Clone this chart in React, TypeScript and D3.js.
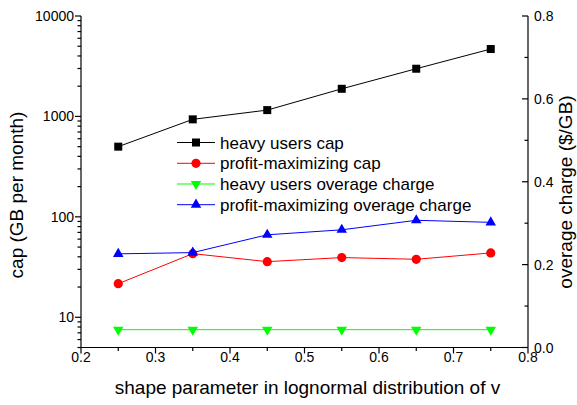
import * as React from 'react'
import * as d3 from 'd3'

const shape = [0.25, 0.35, 0.45, 0.55, 0.65, 0.75]
const heavyCap = [500, 935, 1156, 1884, 2985, 4690]
const profitCap = [21.6, 43, 35.8, 39.3, 37.8, 43.7]
const heavyCharge = [0.043, 0.043, 0.043, 0.043, 0.043, 0.043]
const profitCharge = [0.226, 0.229, 0.272, 0.284, 0.307, 0.302]

const xTicks = [0.2, 0.3, 0.4, 0.5, 0.6, 0.7, 0.8]
const capTicks = [10, 100, 1000, 10000]
const chargeTicks = [0.0, 0.2, 0.4, 0.6, 0.8]

const legendNames = [
	'heavy users cap',
	'profit-maximizing cap',
	'heavy users overage charge',
	'profit-maximizing overage charge',
]

const font = 'Liberation Sans, Arial, sans-serif'

const dims = { width: 577, height: 405, left: 81, right: 528, top: 16, bottom: 347.5 }

type Marker = 'square' | 'circle' | 'down' | 'up'

function MarkerShape(props: { kind: Marker; x: number; y: number; color: string }) {
	const { kind, x, y, color } = props
	if (kind === 'square') return <rect x={x - 4} y={y - 4} width={8} height={8} fill={color} />
	if (kind === 'circle') return <circle cx={x} cy={y} r={4.6} fill={color} />
	const sym = d3.symbol().type(d3.symbolTriangle).size(48)()
	return <path d={sym!} transform={`translate(${x},${y}) rotate(${kind === 'down' ? 180 : 0})`} fill={color} />
}

const App: React.FC = () => {
	const x = d3.scaleLinear().domain([0.2, 0.8]).range([dims.left, dims.right])
	const yCap = d3.scaleLog().domain([5, 10000]).range([dims.bottom, dims.top])
	const yCharge = d3.scaleLinear().domain([0, 0.8]).range([dims.bottom, dims.top])

	const series = [
		{ values: heavyCap, scale: yCap, color: '#000000', marker: 'square' as Marker },
		{ values: profitCap, scale: yCap, color: '#ff0000', marker: 'circle' as Marker },
		{ values: heavyCharge, scale: yCharge, color: '#00ff00', marker: 'down' as Marker },
		{ values: profitCharge, scale: yCharge, color: '#0000ff', marker: 'up' as Marker },
	]

	// minor ticks on the log axis: 2..9 per decade down to 5
	const capMinor: number[] = []
	for (let d = 1; d <= 1000; d *= 10) {
		for (let k = 2; k <= 9; k++) {
			if (k * d >= 5) capMinor.push(k * d)
		}
	}
	const xMinor = d3.range(0.25, 0.8, 0.1)
	const chargeMinor = d3.range(0.1, 0.8, 0.2)

	const legendY = [142.5, 163.3, 184, 204.7]

	return (
		<svg width={dims.width} height={dims.height} style={{ position: 'absolute', left: 0, top: 0, background: '#fff' }}
			fontFamily={font}>
			{/* series */}
			{series.map((s, i) => {
				const line = d3.line<number>()
					.x((_, j) => x(shape[j]))
					.y(v => s.scale(v))
				return (
					<g key={i}>
						<path d={line(s.values)!} fill="none" stroke={s.color} strokeWidth={1} />
						{s.values.map((v, j) => (
							<MarkerShape key={j} kind={s.marker} x={x(shape[j])} y={s.scale(v)} color={s.color} />
						))}
					</g>
				)
			})}

			{/* axes lines */}
			<g stroke="#000" strokeWidth={1.2} fill="none">
				<line x1={dims.left} x2={dims.right} y1={dims.bottom} y2={dims.bottom} />
				<line x1={dims.left} x2={dims.left} y1={dims.top} y2={dims.bottom} />
				<line x1={dims.right} x2={dims.right} y1={dims.top} y2={dims.bottom} />
				{xTicks.map(t => <line key={t} x1={x(t)} x2={x(t)} y1={dims.bottom} y2={dims.bottom + 6} />)}
				{xMinor.map(t => <line key={t} x1={x(t)} x2={x(t)} y1={dims.bottom} y2={dims.bottom + 3.5} />)}
				{capTicks.map(t => <line key={t} x1={dims.left - 6} x2={dims.left} y1={yCap(t)} y2={yCap(t)} />)}
				{capMinor.map(t => <line key={t} x1={dims.left - 3.5} x2={dims.left} y1={yCap(t)} y2={yCap(t)} />)}
				{chargeTicks.map(t => <line key={t} x1={dims.right - 6} x2={dims.right} y1={yCharge(t)} y2={yCharge(t)} />)}
				{chargeMinor.map(t => <line key={t} x1={dims.right - 3.5} x2={dims.right} y1={yCharge(t)} y2={yCharge(t)} />)}
			</g>

			{/* tick labels */}
			<g fontSize={14} fill="#000">
				{xTicks.map(t => (
					<text key={t} x={x(t)} y={dims.bottom + 14} textAnchor="middle">{t.toFixed(1)}</text>
				))}
				{capTicks.map(t => (
					<text key={t} x={dims.left - 7} y={yCap(t) + 5} textAnchor="end">{t}</text>
				))}
				{chargeTicks.map(t => (
					<text key={t} x={dims.right + 6} y={yCharge(t) + 5} textAnchor="start">{t.toFixed(1)}</text>
				))}
			</g>

			{/* axis titles */}
			<text x={(dims.left + dims.right) / 2 + 3} y={394} fontSize={19} textAnchor="middle">
				shape parameter in lognormal distribution of v
			</text>
			<text transform={`translate(23,${195}) rotate(-90)`} fontSize={19} textAnchor="middle">
				cap (GB per month)
			</text>
			<text transform={`translate(572,${192}) rotate(-90)`} fontSize={19} textAnchor="middle">
				overage charge ($/GB)
			</text>

			{/* legend */}
			{series.map((s, i) => (
				<g key={i}>
					<line x1={177} x2={215} y1={legendY[i]} y2={legendY[i]} stroke={s.color} strokeWidth={1} />
					<MarkerShape kind={s.marker} x={196} y={legendY[i]} color={s.color} />
					<text x={220} y={legendY[i] + 6} fontSize={17}>{legendNames[i]}</text>
				</g>
			))}
		</svg>
	)
}

export default App
